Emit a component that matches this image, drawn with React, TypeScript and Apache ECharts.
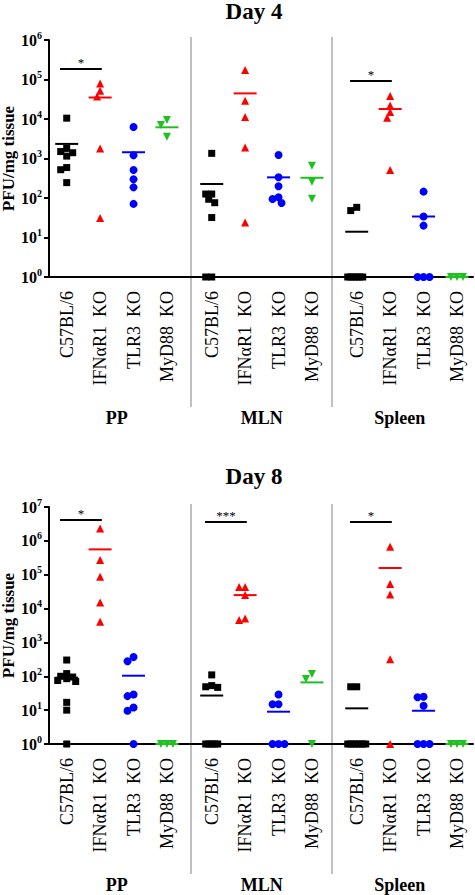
import React, { useEffect, useRef } from 'react';
import * as echarts from 'echarts';

const FONT = '"Liberation Serif", "Times New Roman", serif';

const strains = ['C57BL/6', 'IFNαR1  KO', 'TLR3  KO', 'MyD88  KO'];
const tissues = ['PP', 'MLN', 'Spleen'];
const panelTitles = ['Day 4', 'Day 8'];
const panelMax = [1e6, 1e7];

// values per tissue: [C57BL/6, IFNaR1 KO, TLR3 KO, MyD88 KO]
const day4PP = [
  [10500, 1800, 1500, 1400, 1150, 590, 520, 245],
  [79000, 52000, 37000, 1800, 31],
  [6300, 1200, 510, 297, 186, 71],
  [9400, 7050, 3560],
];
const day4MLN = [
  [1350, 126, 126, 93, 76, 32, 1, 1],
  [174000, 29000, 11200, 1900, 24],
  [1230, 334, 198, 104, 94, 75],
  [660, 258, 96],
];
const day4Spleen = [
  [58, 48, 1, 1, 1, 1, 1, 1],
  [38000, 22000, 15000, 10800, 510],
  [145, 34, 20, 1, 1, 1],
  [1, 1, 1],
];
const day8PP = [
  [302, 120, 100, 95, 85, 75, 70, 17, 10, 1],
  [2300000, 270000, 87000, 15000, 4100],
  [370, 277, 29, 26, 12, 9.6, 1],
  [1, 1, 1],
];
const day8MLN = [
  [110, 53, 49, 47, 1, 1, 1, 1, 1],
  [43000, 43000, 25000, 5100, 4600],
  [29, 15, 15, 1, 1, 1],
  [117, 83, 1],
];
const day8Spleen = [
  [49, 49, 1, 1, 1, 1, 1, 1, 1],
  [670000, 53000, 26000, 318, 1],
  [25, 24, 13.5, 1, 1, 1],
  [1, 1, 1],
];

// group means (horizontal bars), [tissue][strain]
const day4Means = [
  [2340, 35000, 1440, 6170],
  [226, 44500, 333, 325],
  [14, 17900, 34, 1],
];
const day8Means = [
  [91, 560000, 104, 1],
  [27, 25000, 9, 66],
  [11.3, 158000, 9.6, 1],
];

// significance brackets (C57BL/6 vs IFNaR1 KO)
const day4SigTissues = [0, 2];
const day4SigLevels = [185000, 92000];
const day4SigLabels = ['*', '*'];
const day8SigTissues = [0, 1, 2];
const day8SigLevels = [4100000, 3650000, 3650000];
const day8SigLabels = ['*', '***', '*'];

const panels = [
  { data: [day4PP, day4MLN, day4Spleen], means: day4Means, sigT: day4SigTissues, sigL: day4SigLevels, sigText: day4SigLabels },
  { data: [day8PP, day8MLN, day8Spleen], means: day8Means, sigT: day8SigTissues, sigL: day8SigLevels, sigText: day8SigLabels },
];

const colors = ['#000000', '#ff0000', '#0000ff', '#20c020'];
const symbols = ['rect', 'triangle', 'circle', 'triangle'];
const symbolRot = [0, 0, 0, 180];
const symbolSizes = [7, 8, 8, 8];

const X_MAX = 12.69;
const GROUP_STEP = 4.34;
const catX = (g: number, i: number) => 0.53 + i + GROUP_STEP * g;
const sepX = [4.25, 8.47];
const groupLabelX = [2.03, 6.37, 10.5];

const GRID_LEFT = 49;
const GRID_RIGHT = 2;
const GRID_H = 237;
const gridTops = [40, 507];
const titleTops = [0, 465];
const PX_PER_UNIT = (475 - GRID_LEFT - GRID_RIGHT) / X_MAX;

function swarm(values: number[], pxPerDecade: number): number[] {
  const placed: { x: number; y: number }[] = [];
  const cands = [0, -3, 3, -6, 6, -9, 9];
  return values.map((v) => {
    const y = Math.log10(v) * pxPerDecade;
    let best = 0;
    let bestD = -1;
    for (const c of cands) {
      let minD = Infinity;
      for (const p of placed) minD = Math.min(minD, Math.hypot(p.x - c, p.y - y));
      if (minD >= 6) { best = c; break; }
      if (minD > bestD) { bestD = minD; best = c; }
    }
    placed.push({ x: best, y });
    return best / PX_PER_UNIT;
  });
}

function nearestIndex(arr: number[], v: number) {
  let bi = 0;
  for (let i = 1; i < arr.length; i++) if (Math.abs(arr[i] - v) < Math.abs(arr[bi] - v)) bi = i;
  return bi;
}

export default function App() {
  const ref = useRef<HTMLDivElement>(null);
  useEffect(() => {
    document.body.style.margin = '0';
    if (!ref.current) return;
    const chart = echarts.init(ref.current, null, { renderer: 'svg' });

    const allCatX: number[] = [];
    const allCatLabels: string[] = [];
    tissues.forEach((_, g) => strains.forEach((s, i) => { allCatX.push(catX(g, i)); allCatLabels.push(s); }));

    const grids: any[] = [];
    const xAxes: any[] = [];
    const yAxes: any[] = [];
    const series: any[] = [];
    const titles: any[] = [];

    panels.forEach((panel, p) => {
      const decades = Math.round(Math.log10(panelMax[p]));
      const pxPerDecade = GRID_H / decades;
      grids.push({
        left: GRID_LEFT, right: GRID_RIGHT, top: gridTops[p], height: GRID_H,
        containLabel: false, outerBoundsMode: 'none',
      });
      titles.push({
        text: panelTitles[p], left: 254, top: titleTops[p], textAlign: 'center', padding: 0,
        textStyle: { fontFamily: FONT, fontWeight: 'bold', fontSize: 23, color: '#000' },
      });
      xAxes.push({
        gridIndex: p, type: 'value', min: 0, max: X_MAX, position: 'bottom',
        axisLine: { show: true, onZero: false, lineStyle: { color: '#000', width: 2 } },
        axisTick: { show: false }, splitLine: { show: false },
        axisLabel: {
          customValues: allCatX, rotate: 90, margin: 14, fontFamily: FONT, fontSize: 18, color: '#000',
          formatter: (v: number) => allCatLabels[nearestIndex(allCatX, v)],
        },
      });
      xAxes.push({
        gridIndex: p, type: 'value', min: 0, max: X_MAX, position: 'bottom',
        axisLine: { show: false }, axisTick: { show: false }, splitLine: { show: false },
        axisLabel: {
          customValues: groupLabelX, margin: 132, fontFamily: FONT, fontWeight: 'bold', fontSize: 18, color: '#000',
          formatter: (v: number) => tissues[nearestIndex(groupLabelX, v)],
        },
      });
      yAxes.push({
        gridIndex: p, type: 'log', logBase: 10, min: 1, max: panelMax[p], splitNumber: decades,
        axisLine: { show: true, lineStyle: { color: '#000', width: 2 } },
        axisTick: { show: true, length: 5, lineStyle: { color: '#000', width: 2 } },
        minorTick: { show: false }, splitLine: { show: false },
        name: 'PFU/mg tissue', nameLocation: 'middle', nameGap: 32, nameMoveOverlap: false,
        nameTextStyle: { fontFamily: FONT, fontWeight: 'bold', fontSize: 17, color: '#000' },
        axisLabel: {
          margin: 7,
          formatter: (v: number) => `{b|10}{s|${Math.round(Math.log10(v))}}`,
          rich: {
            b: { fontFamily: FONT, fontWeight: 'bold', fontSize: 16, color: '#000', lineHeight: 20 },
            s: { fontFamily: FONT, fontWeight: 'bold', fontSize: 10, color: '#000', lineHeight: 14, verticalAlign: 'top' },
          },
        },
      });
      const xi = p * 2;
      strains.forEach((_, i) => {
        const pts: number[][] = [];
        panel.data.forEach((tissueVals, g) => {
          const vals = tissueVals[i];
          const offs = swarm(vals, pxPerDecade);
          vals.forEach((v, k) => pts.push([catX(g, i) + offs[k], v]));
        });
        series.push({
          type: 'scatter', xAxisIndex: xi, yAxisIndex: p, data: pts,
          symbol: symbols[i], symbolRotate: symbolRot[i], symbolSize: symbolSizes[i],
          itemStyle: { color: colors[i], opacity: 1 }, clip: false, silent: true, z: 3,
        });
      });
      strains.forEach((_, i) => {
        const s: any = {
          type: 'scatter', xAxisIndex: xi, yAxisIndex: p,
          data: panel.means.map((m, g) => [catX(g, i), m[i]]),
          symbol: 'rect', symbolSize: [23, 2], itemStyle: { color: colors[i], opacity: 1 },
          clip: false, silent: true, z: 4,
        };
        if (i === 0) {
          s.markLine = {
            silent: true, symbol: ['none', 'none'], animation: false,
            lineStyle: { color: '#000', width: 2, type: 'solid' },
            label: { show: true, position: 'middle', formatter: '{b}', color: '#000', fontSize: 13, fontFamily: FONT, distance: 0 },
            data: panel.sigT.map((g, k) => [
              { name: panel.sigText[k], coord: [catX(g, 0) - 0.2, panel.sigL[k]] },
              { coord: [catX(g, 1) + 0.05, panel.sigL[k]] },
            ]),
          };
        }
        series.push(s);
      });
    });

    chart.setOption({
      animation: false,
      title: titles,
      grid: grids,
      xAxis: xAxes,
      yAxis: yAxes,
      series,
    });

    const graphics: any[] = [];
    panels.forEach((_, p) => {
      sepX.forEach((sx) => {
        const px = chart.convertToPixel({ xAxisIndex: p * 2 }, sx) as number;
        graphics.push({
          type: 'line', silent: true,
          shape: { x1: px, y1: gridTops[p] - 3, x2: px, y2: gridTops[p] + GRID_H + 130 },
          style: { stroke: '#808080', lineWidth: 1 },
        });
      });
    });
    chart.setOption({ graphic: graphics });

    return () => chart.dispose();
  }, []);
  return <div ref={ref} style={{ width: 475, height: 895 }} />;
}
